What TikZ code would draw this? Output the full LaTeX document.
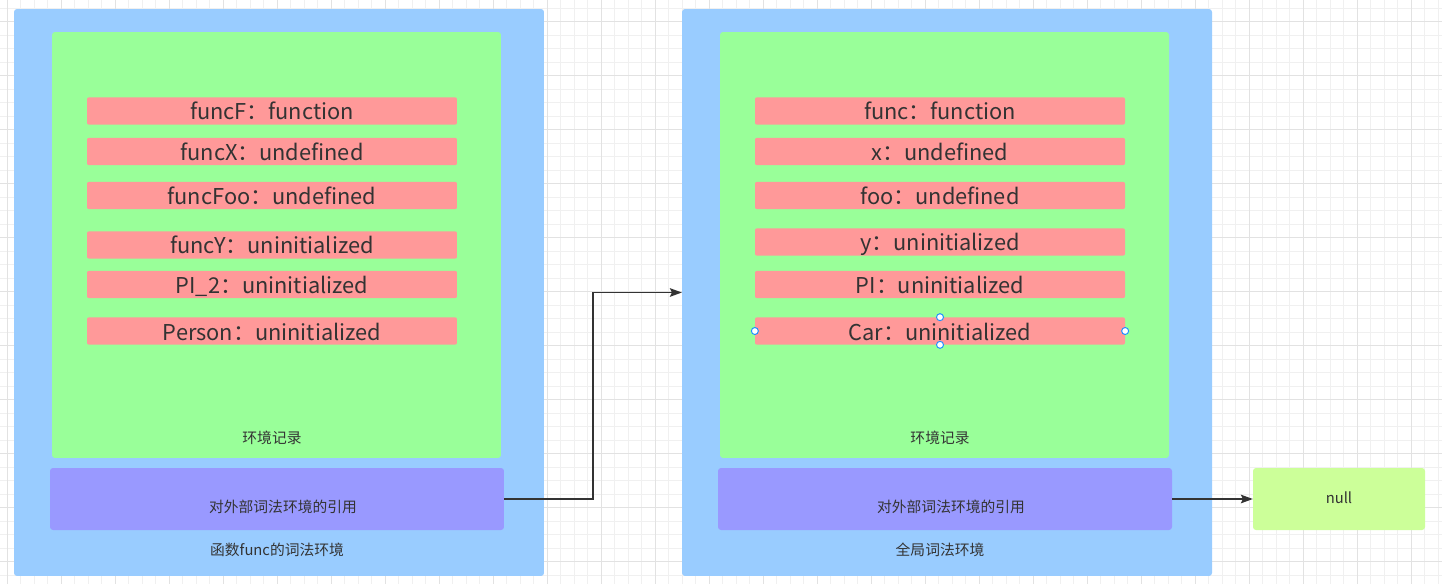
\documentclass[tikz,border=0pt]{standalone}
\usepackage{fontspec}
\setmainfont{Noto Sans CJK SC}
\usepackage{tikz}
\usetikzlibrary{arrows.meta}

\definecolor{envblue}{HTML}{99CCFF}
\definecolor{recgreen}{HTML}{99FF99}
\definecolor{varred}{HTML}{FF9999}
\definecolor{outerpurple}{HTML}{9999FF}
\definecolor{nullgreen}{HTML}{CCFF99}
\definecolor{textgray}{HTML}{333333}
\definecolor{gridminor}{HTML}{F0F0F0}
\definecolor{gridmajor}{HTML}{E2E2E2}
\definecolor{handleblue}{HTML}{1F8FFF}

\begin{document}
\begin{tikzpicture}[x=0.05cm, y=-0.05cm,
  envbox/.style={fill=envblue, rounded corners=1.5mm, inner sep=0pt, minimum width=26.5cm, minimum height=28.35cm},
  recbox/.style={fill=recgreen, rounded corners=1.5mm, inner sep=0pt, minimum width=22.45cm, minimum height=21.3cm},
  outerbox/.style={fill=outerpurple, rounded corners=1.5mm, inner sep=0pt, minimum width=22.7cm, minimum height=3.1cm},
  varbox/.style={fill=varred, rounded corners=1mm, inner sep=0pt, minimum width=18.5cm, minimum height=1.37cm,
    text=textgray, font=\fontsize{31}{36}\selectfont, text height=25.6pt, text depth=0pt},
  smalltext/.style={text=textgray, font=\fontsize{21}{25}\selectfont, inner sep=0pt, text height=16.8pt, text depth=0pt},
  handle/.style={circle, draw=handleblue, fill=white, line width=1.4pt, inner sep=0pt, minimum size=0.35cm},
  link/.style={draw=textgray, line width=2.1pt, -{Stealth[length=0.6cm, width=0.43cm, inset=0.1cm]}}]

% page and grid
\fill[white] (0,0) rectangle (1442,584);
\useasboundingbox (0,0) rectangle (1442,584);
\foreach \gx in {7.3,20.8,...,1442} \draw[gridminor, line width=1.4pt] (\gx,0) -- (\gx,584);
\foreach \gy in {8,21.5,...,584} \draw[gridminor, line width=1.4pt] (0,\gy) -- (1442,\gy);
\foreach \gx in {7.3,61.3,...,1442} \draw[gridmajor, line width=1.4pt] (\gx,0) -- (\gx,584);
\foreach \gy in {21.5,75.5,...,584} \draw[gridmajor, line width=1.4pt] (0,\gy) -- (1442,\gy);

% lexical environment of func
\node[envbox] (funcenv) at (279,292.5) {};
\node[recbox] (funcrec) at (276.5,245) {};
\node[outerbox] (funcouter) at (277,499) {};
\node[varbox] (funcF) at (272,111) {funcF：function};
\node[varbox] (funcX) at (272,151.5) {funcX：undefined};
\node[varbox] (funcFoo) at (272,195.5) {funcFoo：undefined};
\node[varbox] (funcY) at (272,245) {funcY：uninitialized};
\node[varbox] (PI2) at (272,284.5) {PI\_2：uninitialized};
\node[varbox] (Person) at (272,331) {Person：uninitialized};
\node[smalltext] (funcreclbl) at (272,438) {环境记录};
\node[smalltext] (funcouterlbl) at (283,507) {对外部词法环境的引用};
\node[smalltext] (funcenvlbl) at (277,550) {函数func的词法环境};

% global lexical environment
\node[envbox] (globalenv) at (947,292.5) {};
\node[recbox] (globalrec) at (944.5,245) {};
\node[outerbox] (globalouter) at (945,499) {};
\node[varbox] (func) at (940,111) {func：function};
\node[varbox] (x) at (940,151.5) {x：undefined};
\node[varbox] (foo) at (940,195.5) {foo：undefined};
\node[varbox] (y) at (940,242) {y：uninitialized};
\node[varbox] (PI) at (940,284.5) {PI：uninitialized};
\node[varbox] (Car) at (940,331) {Car：uninitialized};
\node[smalltext] (globalreclbl) at (940,438) {环境记录};
\node[smalltext] (globalouterlbl) at (951,507) {对外部词法环境的引用};
\node[smalltext] (globalenvlbl) at (940,550) {全局词法环境};

% selection handles
\node[handle] (carW) at (Car.west) {};
\node[handle] (carE) at (Car.east) {};
\node[handle] (carN) at (Car.north) {};
\node[handle] (carS) at (Car.south) {};

% null
\node[fill=nullgreen, rounded corners=1.5mm, inner sep=0pt, minimum width=8.6cm, minimum height=3.1cm] (nullbox) at (1339,499) {};
\node[smalltext] (nulllbl) at (1339,498) {null};

% outer references
\draw[link] (funcouter.east) -- ++(89,0) |- (globalenv.west);
\draw[link] (globalouter.east) -- (nullbox.west);
\end{tikzpicture}
\end{document}
